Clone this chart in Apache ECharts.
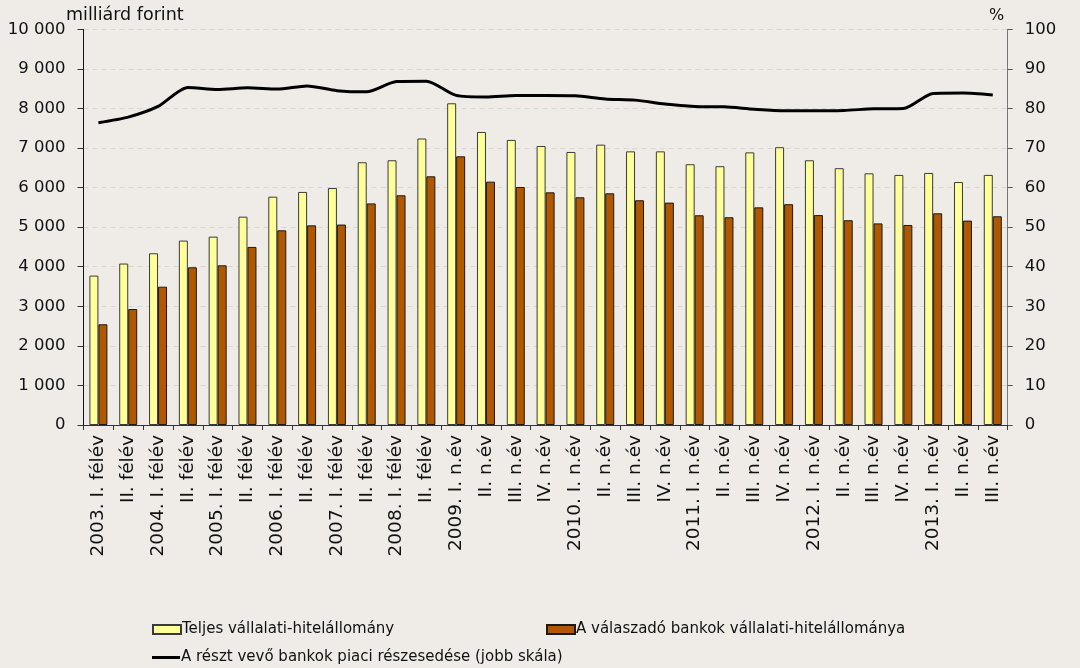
<!DOCTYPE html>
<html>
<head>
<meta charset="utf-8">
<script src="https://cdn.jsdelivr.net/npm/echarts@6/dist/echarts.min.js"></script>
<style>
  html, body { margin: 0; padding: 0; background: #EFECE8; }
  #chart { width: 1080px; height: 668px; }
</style>
</head>
<body>
<div id="chart"></div>
<script>
// kategóriák
var categories = [
  '2003. I. félév', 'II. félév', '2004. I. félév', 'II. félév',
  '2005. I. félév', 'II. félév', '2006. I. félév', 'II. félév',
  '2007. I. félév', 'II. félév', '2008. I. félév', 'II. félév',
  '2009. I. n.év', 'II. n.év', 'III. n.év', 'IV. n.év',
  '2010. I. n.év', 'II. n.év', 'III. n.év', 'IV. n.év',
  '2011. I. n.év', 'II. n.év', 'III. n.év', 'IV. n.év',
  '2012. I. n.év', 'II. n.év', 'III. n.év', 'IV. n.év',
  '2013. I. n.év', 'II. n.év', 'III. n.év'
];

// Teljes vállalati-hitelállomány (milliárd forint)
var totalLoans = [
  3775, 4080, 4340, 4660, 4760, 5265, 5770, 5890, 5990, 6640, 6690, 7240,
  8130, 7405, 7205, 7050, 6900, 7085, 6915, 6915, 6590, 6540, 6890, 7020,
  6690, 6490, 6360, 6320, 6370, 6140, 6320
];

// A válaszadó bankok vállalati-hitelállománya (milliárd forint)
var respondentLoans = [
  2545, 2930, 3495, 3985, 4035, 4500, 4920, 5045, 5065, 5600, 5805, 6285,
  6790, 6150, 6015, 5880, 5755, 5855, 5680, 5620, 5300, 5250, 5500, 5580,
  5305, 5175, 5095, 5055, 5350, 5165, 5275
];

// piaci részesedés (%)
var marketShare = [
  76.4, 77.8, 80.5, 85.3, 84.8, 85.2, 84.9, 85.7, 84.5, 84.2, 86.8, 86.9,
  83.3, 82.9, 83.3, 83.3, 83.2, 82.4, 82.1, 81.1, 80.5, 80.4, 79.8, 79.4,
  79.4, 79.5, 79.9, 80.0, 83.8, 83.9, 83.4
];

var FONT = 'DejaVu Sans';
var TXT = '#111111';

function thousands(v) {
  return String(v).replace(/\B(?=(\d{3})+(?!\d))/g, ' ');
}

var myChart = echarts.init(document.getElementById('chart'));
var option = {
  backgroundColor: '#EFECE8',
  animation: false,
  textStyle: { fontFamily: FONT, color: TXT },
  title: [
    { text: 'milliárd forint', left: 66, top: 6, padding: 0,
      textStyle: { fontFamily: FONT, fontSize: 17.5, fontWeight: 'normal', color: TXT } },
    { text: '%', left: 989, top: 8, padding: 0,
      textStyle: { fontFamily: FONT, fontSize: 16, fontWeight: 'normal', color: TXT } }
  ],
  legend: [
    { data: ['Teljes vállalati-hitelállomány'], left: 152, top: 622, icon: 'rect', itemHeight: 9 },
    { data: ['A válaszadó bankok vállalati-hitelállománya'], left: 546, top: 622, icon: 'rect', itemHeight: 9 },
    { data: ['A részt vevő bankok piaci részesedése (jobb skála)'], left: 152, top: 650,
      icon: 'path://M0,0H28V3H0Z', itemHeight: 3 }
  ].map(function (l) {
    l.itemWidth = 28;
    l.padding = 0;
    l.textStyle = { fontFamily: FONT, fontSize: 15, color: TXT, padding: [0, 0, 0, -4] };
    return l;
  }),
  grid: { left: 83.5, right: 72.3, top: 29.3, bottom: 243 },
  xAxis: {
    type: 'category',
    data: categories,
    axisLine: { lineStyle: { color: '#333', width: 1 } },
    axisTick: { show: true, length: 5, lineStyle: { color: '#333' } },
    axisLabel: { rotate: 90, interval: 0, margin: 10, fontSize: 18.5, color: TXT, fontFamily: FONT }
  },
  yAxis: [
    {
      type: 'value', min: 0, max: 10000, interval: 1000,
      axisLine: { show: true, lineStyle: { color: '#111', width: 1 } },
      axisTick: { show: true, length: 6, lineStyle: { color: '#333' } },
      axisLabel: { margin: 18, fontSize: 16.5, color: TXT, fontFamily: FONT, formatter: thousands },
      splitLine: { show: true, lineStyle: { color: '#D9D5D0', type: [5, 4], width: 1 } }
    },
    {
      type: 'value', min: 0, max: 100, interval: 10, position: 'right',
      axisLine: { show: true, lineStyle: { color: '#777', width: 1 } },
      axisTick: { show: true, length: 5, lineStyle: { color: '#555' } },
      axisLabel: { margin: 17, fontSize: 16.5, color: TXT, fontFamily: FONT },
      splitLine: { show: false }
    }
  ],
  series: [
    {
      name: 'Teljes vállalati-hitelállomány',
      type: 'bar',
      data: totalLoans,
      barWidth: 9,
      barGap: '0%',
      itemStyle: { color: '#FFFF99', borderColor: '#3a3a3a', borderWidth: 1 }
    },
    {
      name: 'A válaszadó bankok vállalati-hitelállománya',
      type: 'bar',
      data: respondentLoans,
      barWidth: 9,
      barGap: '0%',
      itemStyle: { color: '#B05800', borderColor: '#1a1a1a', borderWidth: 1 }
    },
    {
      name: 'A részt vevő bankok piaci részesedése (jobb skála)',
      type: 'line',
      yAxisIndex: 1,
      data: marketShare,
      symbol: 'none',
      smooth: 0.25,
      lineStyle: { color: '#000', width: 3 },
      itemStyle: { color: '#000' }
    }
  ]
};
myChart.setOption(option);
</script>
</body>
</html>
